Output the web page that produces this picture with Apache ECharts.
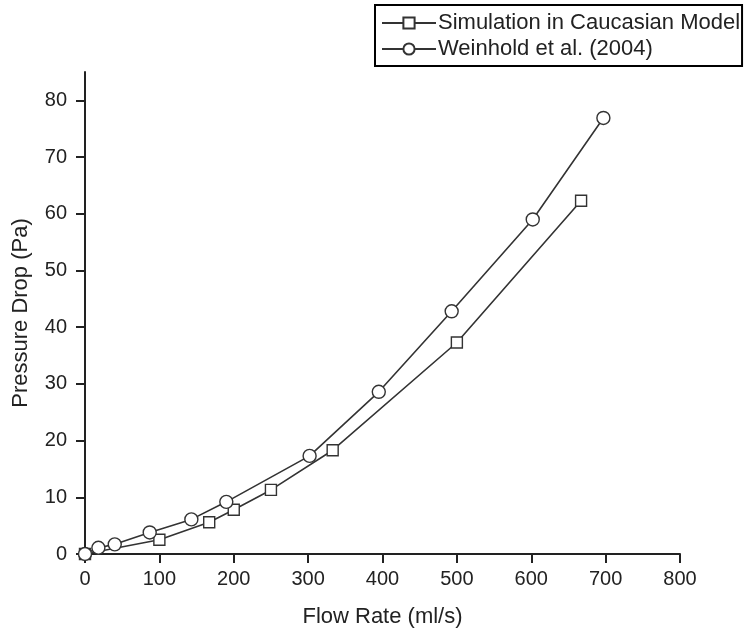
<!DOCTYPE html>
<html>
<head>
<meta charset="utf-8">
<script src="https://cdn.jsdelivr.net/npm/echarts@6/dist/echarts.min.js"></script>
<style>
html,body{margin:0;padding:0;background:#fff;}
#chart{width:744px;height:631px;}
</style>
</head>
<body>
<div id="chart"></div>
<script>
var seriesNames = ['Simulation in Caucasian Model', 'Weinhold et al. (2004)'];
var simFlow = [0, 100, 167, 200, 250, 333, 500, 667];
var simPressure = [0, 2.5, 5.6, 7.8, 11.3, 18.3, 37.3, 62.3];
var weinFlow = [0, 18, 40, 87, 143, 190, 302, 395, 493, 602, 697];
var weinPressure = [0, 1.1, 1.7, 3.8, 6.1, 9.2, 17.3, 28.6, 42.8, 59.0, 76.9];
var xTicks = [0, 100, 200, 300, 400, 500, 600, 700, 800];
var yTicks = [0, 10, 20, 30, 40, 50, 60, 70, 80];
var xTitle = 'Flow Rate (ml/s)';
var yTitle = 'Pressure Drop (Pa)';

function pairs(xs, ys) { return xs.map(function (x, i) { return [x, ys[i]]; }); }

var FONT = '"Liberation Sans", Arial, sans-serif';
var INK = '#222';
var chart = echarts.init(document.getElementById('chart'), null, {renderer: 'canvas'});
chart.setOption({
  animation: false,
  backgroundColor: '#fff',
  textStyle: {fontFamily: FONT, color: INK},
  grid: {left: 85, right: 64, top: 72, bottom: 77, containLabel: false, outerBoundsMode: 'none'},
  legend: {
    orient: 'vertical',
    left: 375, top: 5,
    padding: [7, 2, 6, 6],
    borderColor: '#000', borderWidth: 2,
    itemWidth: 54, itemHeight: 14, itemGap: 4,
    textStyle: {fontFamily: FONT, fontSize: 22, color: INK, lineHeight: 22, padding: [0, 0, 0, -3]},
    data: seriesNames
  },
  xAxis: {
    type: 'value', min: xTicks[0], max: xTicks[xTicks.length - 1], interval: 100,
    name: xTitle, nameLocation: 'middle', nameGap: 52,
    nameTextStyle: {fontFamily: FONT, fontSize: 22, color: INK},
    axisLine: {show: true, onZero: false, lineStyle: {color: INK, width: 2}},
    axisTick: {show: true, inside: false, length: 9, lineStyle: {color: INK, width: 2}},
    axisLabel: {fontFamily: FONT, fontSize: 20, color: INK, margin: 15},
    splitLine: {show: false}
  },
  yAxis: {
    type: 'value', min: 0, max: 85, interval: 10,
    name: yTitle, nameLocation: 'middle', nameGap: 53,
    nameTextStyle: {fontFamily: FONT, fontSize: 22, color: INK},
    axisLine: {show: true, onZero: false, lineStyle: {color: INK, width: 2}},
    axisTick: {show: true, inside: false, length: 9, customValues: yTicks, lineStyle: {color: INK, width: 2}},
    axisLabel: {fontFamily: FONT, fontSize: 20, color: INK, margin: 18, customValues: yTicks},
    splitLine: {show: false}
  },
  series: [
    {
      name: seriesNames[0], type: 'line', data: pairs(simFlow, simPressure),
      symbol: 'rect', symbolSize: 11, showAllSymbol: true,
      lineStyle: {color: '#333', width: 1.6},
      itemStyle: {color: '#fff', borderColor: '#333', borderWidth: 1.4},
      z: 2
    },
    {
      name: seriesNames[1], type: 'line', data: pairs(weinFlow, weinPressure),
      symbol: 'circle', symbolSize: 13, showAllSymbol: true,
      lineStyle: {color: '#333', width: 1.6},
      itemStyle: {color: '#fff', borderColor: '#333', borderWidth: 1.4},
      z: 3
    }
  ]
});
</script>
</body>
</html>
